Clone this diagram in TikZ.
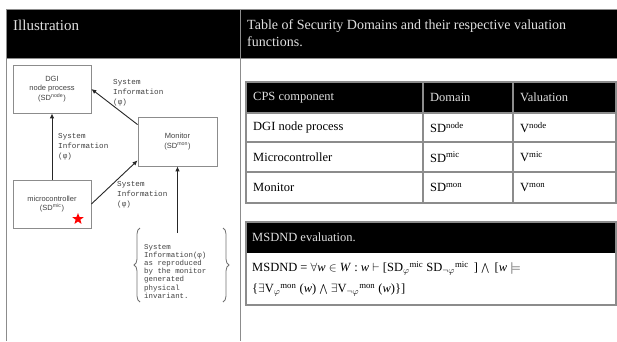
\documentclass[tikz,border=0pt]{standalone}
\usepackage{fontspec}
\setmainfont{Liberation Serif}
\setsansfont{Liberation Sans}
\setmonofont{Liberation Mono}
\usetikzlibrary{shapes.geometric,arrows.meta,decorations.pathreplacing}
\definecolor{framegray}{HTML}{8C8C8C}
\definecolor{inkgray}{HTML}{404040}
\tikzset{
  comp/.style={draw=framegray, line width=0.8pt, minimum width=78pt, minimum height=48pt, inner sep=1pt, align=center, text=inkgray, font=\sffamily\fontsize{7.5}{9.5}\selectfont},
  info/.style={anchor=north west, align=left, inner sep=0pt, text=inkgray, font=\ttfamily\fontsize{7.6}{10}\selectfont},
  flow/.style={draw=black!85, line width=0.9pt, -{Latex[length=5pt,width=4.5pt]}},
  headtext/.style={inner sep=0pt, text=white!88!black, font=\fontsize{14}{17.5}\selectfont},
  cell/.style={anchor=west, inner sep=0pt, font=\fontsize{12.5}{15}\selectfont},
  rule/.style={draw=framegray, line width=1pt},
  curl/.style={draw=inkgray!75, line width=0.8pt, decorate, decoration={brace, amplitude=6pt}},
}
\begin{document}
\begin{tikzpicture}[x=1pt,y=-1pt]
\useasboundingbox (0,0) rectangle (617,341);
\fill[black] (6,9) rectangle (617,58);
\path[rule] (6,341) -- (6,9) -- (617,9);
\path[rule] (6,58) -- (617,58);
\path[rule] (240,9) -- (240,341);
\node[headtext, anchor=base west, font=\fontsize{15}{17.5}\selectfont] (illu) at (13,30) {Illustration};
\node[headtext, anchor=north west, align=left] (ttl) at (247,19) {Table of Security Domains and their respective valuation\\functions.};

\node[comp] (dgi) at (52,89) {DGI\\node process\\(SD\textsuperscript{node})};
\node[comp, minimum width=79pt, minimum height=49pt] (mon) at (177.5,141.5) {Monitor\\(SD\textsuperscript{mon})};
\node[comp] (mic) at (52,204) {microcontroller\\(SD\textsuperscript{mic})};
\node[star, star points=5, star point ratio=2.4, fill=red, minimum size=12pt, inner sep=0pt] (mark) at (78,219) {};

\path[flow] (mic.north) -- (dgi.south);
\path[flow] ([yshift=-8pt]mon.north west) -- (dgi.east);
\path[flow] (mic.east) -- ([yshift=6pt]mon.south west);
\node[info] (infa) at (113,79) {System\\Information\\(φ)};
\node[info] (infb) at (58,133) {System\\Information\\(φ)};
\node[info] (infc) at (117,181) {System\\Information\\(φ)};

\node[info, font=\ttfamily\fontsize{7.4}{8.2}\selectfont] (note) at (144,244) {System\\Information(φ)\\as reproduced\\by the monitor\\generated\\physical\\invariant.};
\path[curl] (140,302) -- (140,228);
\path[curl] (223,228) -- (223,302);
\coordinate (tail) at (177.5,233);
\path[flow] (tail) -- (mon.south);

\fill[black] (246,82) rectangle (616,113);
\draw[framegray, line width=1.2pt] (246,82) rectangle (616,203);
\foreach \y in {113,142,172} \draw[framegray, line width=1.2pt] (246,\y) -- (616,\y);
\foreach \x in {423,513} \draw[framegray, line width=1.2pt] (\x,82) -- (\x,203);
\node[cell, text=white!88!black] (hcps) at (253,97.5) {CPS component};
\node[cell, text=white!88!black] (hdom) at (430,97.5) {Domain};
\node[cell, text=white!88!black] (hval) at (520,97.5) {Valuation};
\node[cell] (rdgi) at (253,127.5) {DGI node process};
\node[cell] (sdgi) at (430,127.5) {SD\textsuperscript{node}};
\node[cell] (vdgi) at (520,127.5) {V\textsuperscript{node}};
\node[cell] (rmic) at (253,157) {Microcontroller};
\node[cell] (smic) at (430,157) {SD\textsuperscript{mic}};
\node[cell] (vmic) at (520,157) {V\textsuperscript{mic}};
\node[cell] (rmon) at (253,187.5) {Monitor};
\node[cell] (smon) at (430,187.5) {SD\textsuperscript{mon}};
\node[cell] (vmon) at (520,187.5) {V\textsuperscript{mon}};

\fill[black] (246,222) rectangle (616,253);
\draw[framegray, line width=1.2pt] (246,222) rectangle (616,305);
\node[cell, text=white!88!black] (evl) at (252,237.5) {MSDND evaluation.};
\node[cell, anchor=north west, align=left, font=\fontsize{12.5}{21}\selectfont] (frm) at (252,261) {MSDND = $\forall$\textit{w} $\in$ \textit{W} : \textit{w} $\vdash$ [SD\textsubscript{$\varphi$}\textsuperscript{mic} SD\textsubscript{$\neg\varphi$}\textsuperscript{mic}\, ] $\bigwedge$\, [\textit{w} $\models$\\\{$\exists$V\textsubscript{$\varphi$}\textsuperscript{mon} (\textit{w}) $\bigwedge$ $\exists$V\textsubscript{$\neg\varphi$}\textsuperscript{mon} (\textit{w})\}]};
\end{tikzpicture}
\end{document}
